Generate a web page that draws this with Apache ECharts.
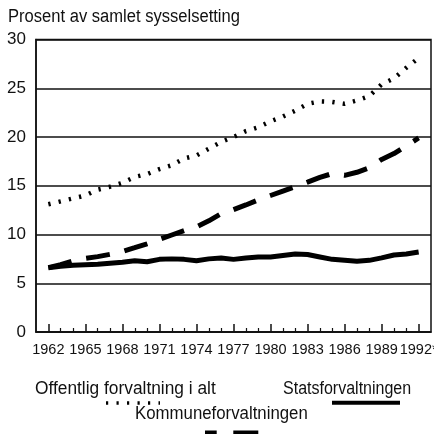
<!DOCTYPE html>
<html>
<head>
<meta charset="utf-8">
<script src="https://cdn.jsdelivr.net/npm/echarts@6/dist/echarts.min.js"></script>
<style>
html,body{margin:0;padding:0;background:#fff;}
#chart{width:434px;height:434px;}
</style>
</head>
<body>
<div id="chart"></div>
<script>
// ---- data ----
const years = [1962,1963,1964,1965,1966,1967,1968,1969,1970,1971,1972,1973,1974,1975,1976,1977,1978,1979,1980,1981,1982,1983,1984,1985,1986,1987,1988,1989,1990,1991,1992];
const offentligAlt = [13.1,13.4,13.7,14.0,14.6,14.9,15.3,15.9,16.2,16.7,17.1,17.8,18.1,18.8,19.5,20.0,20.6,21.0,21.6,22.1,22.7,23.4,23.65,23.6,23.4,23.75,24.2,25.4,26.0,27.1,28.1];
const statsforv = [6.6,6.75,6.85,6.9,6.95,7.05,7.15,7.3,7.2,7.45,7.5,7.45,7.3,7.5,7.6,7.45,7.6,7.7,7.7,7.85,8.0,7.95,7.7,7.45,7.35,7.25,7.35,7.6,7.9,8.0,8.2];
const kommuneforv = [6.6,6.9,7.3,7.55,7.73,7.97,8.26,8.65,9.05,9.5,9.95,10.4,10.78,11.4,12.13,12.55,13.03,13.55,14.0,14.45,14.9,15.37,15.85,16.25,16.07,16.38,16.85,17.7,18.3,19.1,19.9];
const majorTickYears = [1962,1965,1968,1971,1974,1977,1980,1983,1986,1989,1992];
const xTickLabels = ['1962','1965','1968','1971','1974','1977','1980','1983','1986','1989','1992*'];
const yTickValues = [0,5,10,15,20,25,30];
const seriesNames = ['Offentlig forvaltning i alt','Statsforvaltningen','Kommuneforvaltningen'];
const yTitle = 'Prosent av samlet sysselsetting';

const FONT = "'Liberation Sans',Arial,sans-serif";
const minorYears = years.filter(y => majorTickYears.indexOf(y) < 0);
const pairs = arr => years.map((y, i) => [y, arr[i]]);

const chart = echarts.init(document.getElementById('chart'), null, {renderer: 'canvas'});
chart.setOption({
  animation: false,
  backgroundColor: '#fff',
  grid: {left: 36, right: 3, top: 39.5, bottom: 102, show: true, borderColor: '#111', borderWidth: 1.5,
         containLabel: false, outerBoundsMode: 'none'},
  xAxis: [{
    type: 'value', min: 1961, max: 1993,
    axisLine: {show: true, lineStyle: {color: '#111', width: 1.5}},
    axisTick: {show: true, inside: true, length: 8, lineStyle: {color: '#111', width: 1.5}, customValues: majorTickYears},
    axisLabel: {show: true, margin: 10, customValues: majorTickYears, showMinLabel: true, showMaxLabel: true, hideOverlap: false,
      formatter: v => { const i = majorTickYears.indexOf(Math.round(v)); return i < 0 ? '' : xTickLabels[i]; },
      fontFamily: FONT, fontSize: 14.5, color: '#111'},
    splitLine: {show: false}
  }, {
    type: 'value', min: 1961, max: 1993, position: 'bottom',
    axisLine: {show: false},
    axisTick: {show: true, inside: true, length: 4, lineStyle: {color: '#111', width: 1.2}, customValues: minorYears},
    axisLabel: {show: false},
    splitLine: {show: false}
  }],
  yAxis: {
    type: 'value', min: 0, max: 30, interval: 5,
    axisLine: {show: true, lineStyle: {color: '#111', width: 1.5}},
    axisTick: {show: false},
    axisLabel: {margin: 10, fontFamily: FONT, fontSize: 17, color: '#111', showMinLabel: true, showMaxLabel: true,
      formatter: v => yTickValues.indexOf(v) >= 0 ? String(v) : ''},
    splitLine: {show: true, lineStyle: {color: '#111', width: 1.5}}
  },
  series: [{
    name: seriesNames[0], type: 'line', data: pairs(offentligAlt), showSymbol: false, symbol: 'none',
    lineStyle: {color: '#000', width: 4.5, type: [2.3, 8.2], cap: 'butt'}
  }, {
    name: seriesNames[1], type: 'line', data: pairs(statsforv), showSymbol: false, symbol: 'none',
    lineStyle: {color: '#000', width: 5, type: 'solid', cap: 'butt', join: 'round'}
  }, {
    name: seriesNames[2], type: 'line', data: pairs(kommuneforv), showSymbol: false, symbol: 'none',
    lineStyle: {color: '#000', width: 5, type: [24, 15], cap: 'butt'}
  }],
  graphic: [
    {type: 'text', x: 8, y: 8.5, scaleX: 0.92, style: {text: yTitle, font: '18px ' + FONT, fill: '#111'}},
    {type: 'text', x: 35, y: 380.5, scaleX: 0.99, style: {text: seriesNames[0], font: '17.5px ' + FONT, fill: '#111'}},
    {type: 'line', shape: {x1: 106, y1: 403, x2: 160, y2: 403}, style: {stroke: '#000', lineWidth: 3.5, lineDash: [2.2, 8.3]}},
    {type: 'text', x: 283, y: 380.5, scaleX: 0.915, style: {text: seriesNames[1], font: '17.5px ' + FONT, fill: '#111'}},
    {type: 'line', shape: {x1: 332, y1: 402.7, x2: 400, y2: 402.7}, style: {stroke: '#000', lineWidth: 4}},
    {type: 'text', x: 135, y: 405, scaleX: 0.96, style: {text: seriesNames[2], font: '17.5px ' + FONT, fill: '#111'}},
    {type: 'line', shape: {x1: 205, y1: 433, x2: 258.3, y2: 433}, style: {stroke: '#000', lineWidth: 5, lineDash: [11.7, 16.6, 25, 20]}}
  ]
});
</script>
</body>
</html>
